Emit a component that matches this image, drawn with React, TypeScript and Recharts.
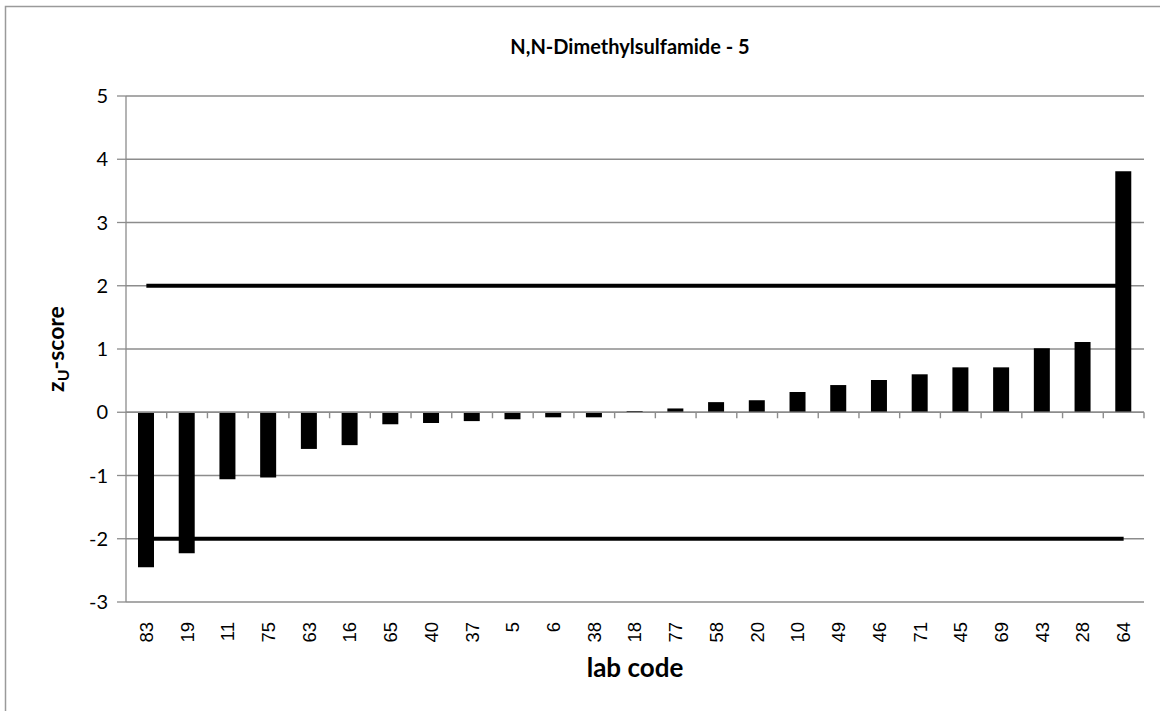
import { ComposedChart, Bar, XAxis, YAxis, CartesianGrid, ReferenceLine, Label } from 'recharts';

const labCodes = ['83', '19', '11', '75', '63', '16', '65', '40', '37', '5', '6', '38', '18', '77', '58', '20', '10', '49', '46', '71', '45', '69', '43', '28', '64'];
const zScores = [-2.45, -2.23, -1.06, -1.03, -0.58, -0.52, -0.19, -0.17, -0.14, -0.11, -0.08, -0.08, 0.02, 0.06, 0.16, 0.19, 0.32, 0.43, 0.51, 0.6, 0.71, 0.71, 1.01, 1.11, 3.81];
const yTicks = [-3, -2, -1, 0, 1, 2, 3, 4, 5];
const limits = [2, -2];

const data = labCodes.map((code, i) => ({ code, z: zScores[i] }));

const GRID = '#8c8c8c';
const CAL = 'Lato, "Open Sans", sans-serif';

// x labels: rotated, placed under the plot
function LabTick(props: any) {
  const { x, y, payload } = props;
  return (
    <text
      x={x}
      y={y}
      transform={`rotate(-90, ${x}, ${y})`}
      textAnchor="end"
      dy="0.35em"
      fontFamily='"Liberation Sans", Arial, sans-serif'
      fontSize={18.5}
      fill="#000"
    >
      {payload.value}
    </text>
  );
}

// zero axis line with tick marks on category boundaries
function ZeroAxis(props: any) {
  const x1 = Number(props.x1);
  const y1 = Number(props.y1);
  const x2 = Number(props.x2);
  const n = labCodes.length;
  const step = (x2 - x1) / n;
  let d = `M${x1},${y1}H${x2}`;
  for (let i = 1; i <= n; i++) {
    const tx = x1 + i * step;
    d += `M${tx},${y1}V${y1 + 6}`;
  }
  return <path d={d} stroke={GRID} strokeWidth={1.4} fill="none" />;
}

function YTitle() {
  const cx = 64;
  const cy = 349;
  return (
    <text
      x={cx}
      y={cy}
      transform={`rotate(-90, ${cx}, ${cy})`}
      textAnchor="middle"
      fontFamily={CAL}
      fontWeight="bold"
      fontSize={23}
      fill="#000"
    >
      z<tspan fontSize={16} dy={5}>U</tspan>
      <tspan dy={-5}>-score</tspan>
    </text>
  );
}

export default function App() {
  return (
    <div style={{ position: 'absolute', left: 0, top: 0, width: 1160, height: 711, background: '#fff' }}>
      <svg style={{ position: 'absolute', left: 0, top: 0 }} width={1160} height={711}>
        <rect x={5.5} y={6.5} width={1200} height={720} fill="#fff" stroke="#9a9a9a" strokeWidth={1.5} />
      </svg>
      <div style={{ position: 'absolute', left: 0, top: 0 }}>
        <ComposedChart
          width={1160}
          height={711}
          data={data}
          margin={{ top: 96, right: 16, left: 36, bottom: 49 }}
        >
          <text x={630} y={54} textAnchor="middle" fontFamily={CAL} fontWeight="bold" fontSize={20} fill="#000">
            N,N-Dimethylsulfamide - 5
          </text>
          <CartesianGrid vertical={false} stroke={GRID} strokeWidth={1.3} />
          <XAxis
            dataKey="code"
            axisLine={false}
            tickLine={false}
            interval={0}
            height={60}
            tick={<LabTick />}
            tickMargin={14}
          >
            <Label
              value="lab code"
              position="insideBottom"
              offset={-15}
              style={{ fontFamily: CAL, fontWeight: 'bold', fontSize: 26, fill: '#000' }}
            />
          </XAxis>
          <YAxis
            domain={[-3, 5]}
            ticks={yTicks}
            width={90}
            interval={0}
            axisLine={{ stroke: GRID, strokeWidth: 1.3 }}
            tickLine={{ stroke: GRID, strokeWidth: 1.3 }}
            tickSize={9}
            tickMargin={9}
            tick={{ fontFamily: CAL, fontSize: 20, fill: '#000' }}
          >
            <Label content={<YTitle />} />
          </YAxis>
          <ReferenceLine y={0} shape={(p: any) => <ZeroAxis {...p} />} />
          {limits.map((v) => (
            <ReferenceLine
              key={v}
              segment={[{ x: labCodes[0], y: v }, { x: labCodes[labCodes.length - 1], y: v }]}
              stroke="#000"
              strokeWidth={4}
            />
          ))}
          <Bar dataKey="z" fill="#000" barSize={16} isAnimationActive={false} />
        </ComposedChart>
      </div>
    </div>
  );
}
